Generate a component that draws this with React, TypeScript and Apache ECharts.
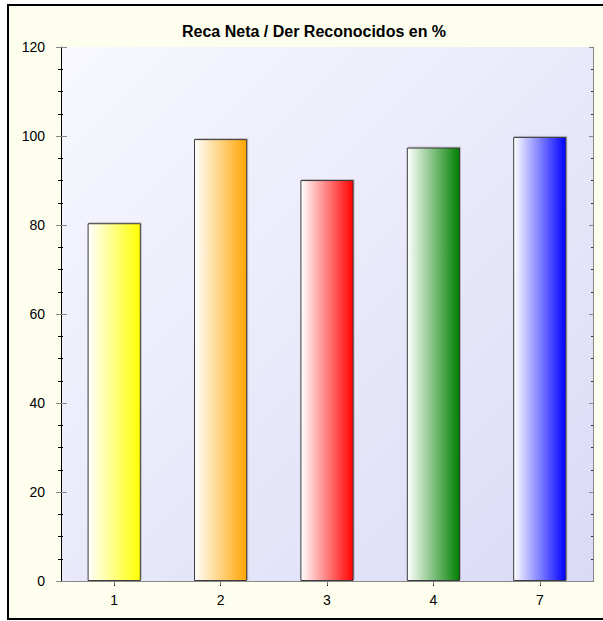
import React, { useEffect, useRef } from "react";
import * as echarts from "echarts";

const categories = ["1", "2", "3", "4", "7"];
const values = [80.4, 99.3, 90.1, 97.4, 99.8];
const barColors = ["#FFFF00", "#FFA500", "#FF0000", "#008000", "#0000FF"];
const titleText = "Reca Neta / Der Reconocidos en %";

const FONT = 'Arial, "Liberation Sans", sans-serif';

export default function App() {
  const ref = useRef<HTMLDivElement>(null);

  useEffect(() => {
    if (!ref.current) return;
    const chart = echarts.init(ref.current, undefined, { renderer: "svg" });

    const yCommon = { type: "value", min: 0, max: 120, interval: 20, splitLine: { show: false } };
    const xCommon = { type: "category", data: categories, boundaryGap: true };

    chart.setOption({
      animation: false,
      backgroundColor: "transparent",
      title: {
        text: titleText,
        left: 177,
        top: 18,
        textStyle: { fontFamily: FONT, fontSize: 16, fontWeight: "bold", color: "#000" },
      },
      grid: {
        left: 61,
        top: 47,
        width: 532,
        height: 534,
        show: true,
        borderWidth: 0,
        backgroundColor: new echarts.graphic.LinearGradient(0, 0, 1, 1, [
          { offset: 0, color: "#F8F8FE" },
          { offset: 1, color: "#DADAF7" },
        ]),
      },
      xAxis: [
        {
          ...xCommon,
          position: "bottom",
          axisLine: { show: true, lineStyle: { color: "#000", width: 1 } },
          axisTick: { show: true, alignWithLabel: true, length: 5, lineStyle: { color: "#000" } },
          axisLabel: { show: true, fontFamily: FONT, fontSize: 14, color: "#000", margin: 12 },
        },
        {
          ...xCommon,
          position: "bottom",
          axisLine: { show: false },
          axisTick: { show: true, alignWithLabel: true, inside: true, length: 4, lineStyle: { color: "#000" } },
          axisLabel: { show: false },
        },
        {
          ...xCommon,
          position: "top",
          axisLine: { show: true, lineStyle: { color: "#888", width: 1 } },
          axisTick: { show: true, alignWithLabel: true, inside: true, length: 4, lineStyle: { color: "#777" } },
          axisLabel: { show: false },
        },
      ],
      yAxis: [
        {
          ...yCommon,
          position: "left",
          axisLine: { show: true, lineStyle: { color: "#000", width: 1 } },
          axisTick: { show: true, length: 5, lineStyle: { color: "#888" } },
          minorTick: { show: true, splitNumber: 4, length: 3, lineStyle: { color: "#000" } },
          axisLabel: { show: true, fontFamily: FONT, fontSize: 14, color: "#000", margin: 16 },
        },
        {
          ...yCommon,
          position: "left",
          axisLine: { show: false },
          axisTick: { show: true, inside: true, length: 6, lineStyle: { color: "#888" } },
          minorTick: { show: true, splitNumber: 4, length: 2, lineStyle: { color: "#000" } },
          axisLabel: { show: false },
        },
        {
          ...yCommon,
          position: "right",
          axisLine: { show: true, lineStyle: { color: "#888", width: 1 } },
          axisTick: { show: true, inside: true, length: 4, lineStyle: { color: "#888" } },
          minorTick: { show: true, splitNumber: 4, length: 2, lineStyle: { color: "#333" } },
          axisLabel: { show: false },
        },
      ],
      series: [
        {
          type: "bar",
          xAxisIndex: 0,
          yAxisIndex: 0,
          barWidth: "50%",
          data: values.map((v, i) => ({
            value: v,
            itemStyle: {
              color: new echarts.graphic.LinearGradient(0, 0, 1, 0, [
                { offset: 0, color: "#FFFFFF" },
                { offset: 1, color: barColors[i] },
              ]),
              borderColor: "#3A3A3A",
              borderWidth: 1,
              shadowColor: "rgba(0,0,0,0.2)",
              shadowOffsetX: 1,
              shadowOffsetY: -1,
              shadowBlur: 0,
            },
          })),
        },
      ],
    });

    return () => chart.dispose();
  }, []);

  return (
    <div style={{ position: "fixed", left: 0, top: 0, width: 603, height: 621, overflow: "hidden", background: "#fff" }}>
      <div
        style={{
          position: "absolute",
          left: 7,
          top: 4,
          width: 700,
          height: 616,
          boxSizing: "border-box",
          border: "2px solid #000",
          background: "#FEFEEE",
        }}
      />
      <div ref={ref} style={{ position: "absolute", left: 0, top: 0, width: 603, height: 621 }} />
    </div>
  );
}
